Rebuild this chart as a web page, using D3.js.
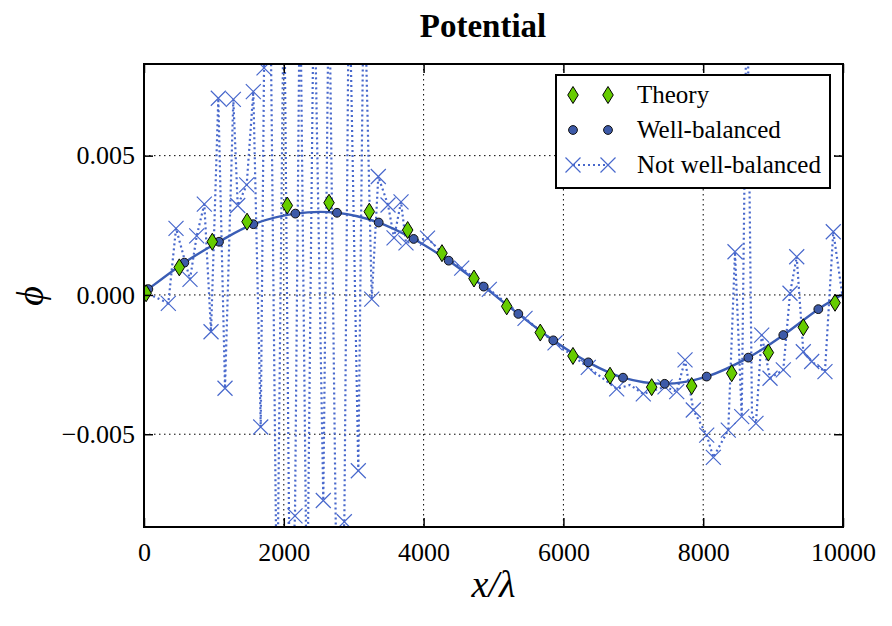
<!DOCTYPE html>
<html lang="en">
<head>
   <meta charset="UTF-8">
   <title>Potential</title>
   <style>
      html, body {
         margin: 0;
         padding: 0;
         background: #fff;
         overflow: hidden;
      }

      text {
         font-family: 'Liberation Serif', 'Times New Roman', serif;
         fill: #000;
      }

      .axis text {
         font-size: 26px;
      }

      .axis line {
         stroke: #000;
         stroke-width: 1.5;
      }

      .grid line {
         stroke: #000;
         stroke-width: 1;
         stroke-dasharray: 1.5, 3.5;
      }

      .legend text {
         font-size: 25px;
      }
   </style>
   <script src="https://cdn.jsdelivr.net/npm/d3@7"></script>
</head>
<body>
   <div id="chart"></div>
   <script>
      // theory (green diamonds)
      const theoryX = [30, 505, 977, 1474, 2050, 2647, 3223, 3772, 4263, 4721, 5189, 5669, 6137, 6667, 7263, 7835, 8408, 8932, 9432, 9886]
      const theoryY = [0.00006, 0.00099, 0.00191, 0.00263, 0.00321, 0.00331, 0.00299, 0.00233, 0.00150, 0.00059, -0.00041, -0.00135, -0.00219, -0.00290, -0.00331, -0.00327, -0.00281, -0.00207, -0.00116, -0.00028]

      // well-balanced (circles + solid line)
      const wbX = [62, 577, 1073, 1564, 2165, 2761, 3358, 3858, 4359, 4860, 5355, 5855, 6356, 6853, 7449, 8050, 8645, 9146, 9647]
      const wbY = [0.00021, 0.00116, 0.00191, 0.00254, 0.00292, 0.00295, 0.00260, 0.00201, 0.00123, 0.00030, -0.00068, -0.00163, -0.00242, -0.00297, -0.00319, -0.00293, -0.00225, -0.00144, -0.00051]
      const wbLineX = [0, ...wbX, 10000]
      const wbLineY = [0.00009, ...wbY, 0.00003]

      // not well-balanced (x markers + dotted line), values beyond the axis are clipped
      const nwbX = [0, 348, 458, 658, 754, 863, 959, 1063, 1159, 1278, 1341, 1469, 1564, 1670, 1717, 1803, 1903, 2003, 2089, 2160,
         2232, 2332, 2432, 2565, 2647, 2761, 2866, 2933, 3066, 3147, 3258, 3352, 3491, 3577, 3677, 3748, 4056, 4306, 4545, 4940,
         5451, 5880, 6356, 6762, 6953, 7143, 7454, 7621, 7740, 7858, 8050, 8145, 8359, 8455, 8551, 8627, 8698, 8755, 8837, 8956,
         9146, 9242, 9338, 9432, 9552, 9742, 9861, 10000]
      const nwbY = [0.00011, -0.00030, 0.00239, 0.00056, 0.00212, 0.00326, -0.00132, 0.00706, -0.00335, 0.00702, 0.00321, 0.00395, 0.00730, -0.00474, 0.00815, 0.012, -0.012, 0.012, -0.012, -0.00793,
         0.012, -0.012, 0.012, -0.00738, 0.012, -0.012, -0.00814, 0.012, -0.00631, 0.012, -0.00015, 0.00425, 0.00323, 0.00205, 0.00334, 0.00187, 0.00204, 0.00140, 0.00096, 0.00020,
         -0.00084, -0.00172, -0.00260, -0.00337, -0.00323, -0.00355, -0.00330, -0.00347, -0.00233, -0.00413, -0.00503, -0.00583, -0.00485, 0.00155, -0.00437, 0.012, -0.00431, -0.00461, -0.00144, -0.00299,
         -0.00269, 0.00006, 0.00137, -0.00204, -0.00239, -0.00275, 0.00227, -0.00018]
      const nwbMark = [0, 1, 1, 1, 1, 1, 1, 1, 1, 1, 1, 1, 1, 1, 1, 0, 0, 0, 0, 1,
         0, 0, 0, 1, 0, 0, 1, 0, 1, 0, 1, 1, 1, 1, 1, 1, 1, 0, 1, 1,
         1, 1, 1, 1, 0, 1, 1, 1, 1, 1, 1, 1, 1, 1, 1, 0, 0, 1, 1, 1,
         1, 1, 1, 1, 1, 1, 1, 0]

      const xTicks = [0, 2000, 4000, 6000, 8000, 10000]
      const yTicks = [-0.005, 0, 0.005]
      const legendLabels = ['Theory', 'Well-balanced', 'Not well-balanced']

      const COLOR_LINE = '#3a5db5'
      const COLOR_DOT = '#3d5aa8'
      const COLOR_X = '#4868cc'
      const COLOR_GREEN = '#66cc00'

      // custom marker shapes for d3.symbol
      const xShape = {
         draw(ctx, size) {
            const r = Math.sqrt(size) / 2
            ctx.moveTo(-r, -r)
            ctx.lineTo(r, r)
            ctx.moveTo(-r, r)
            ctx.lineTo(r, -r)
         }
      }
      const thinDiamond = {
         draw(ctx, size) {
            const h = Math.sqrt(size) / 2, w = h * 0.62
            ctx.moveTo(0, -h)
            ctx.lineTo(w, 0)
            ctx.lineTo(0, h)
            ctx.lineTo(-w, 0)
            ctx.closePath()
         }
      }

      const W = 892, H = 626
      const padding = { top: 64, right: 49, bottom: 99, left: 144 }
      const WIDTH = W - padding.left - padding.right
      const HEIGHT = H - padding.top - padding.bottom

      const svg = d3.select('#chart').append('svg')
         .attr('width', W)
         .attr('height', H)

      const chart = svg.append('g')
         .attr('transform', `translate(${padding.left}, ${padding.top})`)

      // scales
      const xScale = d3.scaleLinear().domain([0, 10000]).range([0, WIDTH])
      const yScale = d3.scaleLinear().domain([-0.00833, 0.00829]).range([HEIGHT, 0])

      chart.append('clipPath')
         .attr('id', 'clip')
         .append('rect')
         .attr('width', WIDTH)
         .attr('height', HEIGHT)

      // grid
      const grid = chart.append('g').attr('class', 'grid')
      grid.selectAll('.gx')
         .data(xTicks.slice(1, -1))
         .enter()
         .append('line')
         .attr('x1', d => xScale(d))
         .attr('x2', d => xScale(d))
         .attr('y1', 0)
         .attr('y2', HEIGHT)
      grid.selectAll('.gy')
         .data(yTicks)
         .enter()
         .append('line')
         .attr('x1', 0)
         .attr('x2', WIDTH)
         .attr('y1', d => yScale(d))
         .attr('y2', d => yScale(d))

      const plot = chart.append('g').attr('clip-path', 'url(#clip)')

      // not well-balanced
      const nwb = nwbX.map((x, i) => ({ x, y: nwbY[i], mark: nwbMark[i] }))
      plot.append('path')
         .datum(nwb)
         .attr('fill', 'none')
         .attr('stroke', COLOR_X)
         .attr('stroke-width', 2.2)
         .attr('stroke-dasharray', '2,3')
         .attr('d', d3.line().x(d => xScale(d.x)).y(d => yScale(d.y)))

      // well-balanced line
      const wbLine = wbLineX.map((x, i) => ({ x, y: wbLineY[i] }))
      plot.append('path')
         .datum(wbLine)
         .attr('fill', 'none')
         .attr('stroke', COLOR_LINE)
         .attr('stroke-width', 2.4)
         .attr('d', d3.line().curve(d3.curveCatmullRom).x(d => xScale(d.x)).y(d => yScale(d.y)))

      plot.selectAll('.xmark')
         .data(nwb.filter(d => d.mark))
         .enter()
         .append('path')
         .attr('class', 'xmark')
         .attr('transform', d => `translate(${xScale(d.x)}, ${yScale(d.y)})`)
         .attr('d', d3.symbol(xShape, 15 * 15))
         .attr('fill', 'none')
         .attr('stroke', COLOR_X)
         .attr('stroke-width', 1.2)

      plot.selectAll('.wb')
         .data(wbX.map((x, i) => ({ x, y: wbY[i] })))
         .enter()
         .append('circle')
         .attr('cx', d => xScale(d.x))
         .attr('cy', d => yScale(d.y))
         .attr('r', 4.4)
         .attr('fill', COLOR_DOT)
         .attr('stroke', '#111')
         .attr('stroke-width', 1)

      plot.selectAll('.theory')
         .data(theoryX.map((x, i) => ({ x, y: theoryY[i] })))
         .enter()
         .append('path')
         .attr('transform', d => `translate(${xScale(d.x)}, ${yScale(d.y)})`)
         .attr('d', d3.symbol(thinDiamond, 17 * 17))
         .attr('fill', COLOR_GREEN)
         .attr('stroke', '#000')
         .attr('stroke-width', 1)

      // axes
      const xAxis = chart.append('g')
         .attr('class', 'axis')
         .attr('transform', `translate(0, ${HEIGHT})`)
         .call(d3.axisBottom(xScale).tickValues(xTicks).tickSize(-9).tickPadding(16).tickFormat(d3.format('d')))
      xAxis.select('.domain').remove()

      const xAxisTop = chart.append('g')
         .attr('class', 'axis')
         .call(d3.axisTop(xScale).tickValues(xTicks).tickSize(-9).tickFormat(''))
      xAxisTop.select('.domain').remove()

      const yAxis = chart.append('g')
         .attr('class', 'axis')
         .call(d3.axisLeft(yScale).tickValues(yTicks).tickSize(-9).tickPadding(9).tickFormat(d3.format('.3f')))
      yAxis.select('.domain').remove()

      const yAxisRight = chart.append('g')
         .attr('class', 'axis')
         .attr('transform', `translate(${WIDTH}, 0)`)
         .call(d3.axisRight(yScale).tickValues(yTicks).tickSize(-9).tickFormat(''))
      yAxisRight.select('.domain').remove()

      chart.selectAll('.axis .tick line').attr('stroke', '#000')
      chart.selectAll('.axis text').attr('fill', '#000')

      // frame
      chart.append('rect')
         .attr('width', WIDTH)
         .attr('height', HEIGHT)
         .attr('fill', 'none')
         .attr('stroke', '#000')
         .attr('stroke-width', 2)

      // labels
      svg.append('text')
         .attr('x', 483)
         .attr('y', 37)
         .attr('text-anchor', 'middle')
         .style('font-size', '33px')
         .style('font-weight', 'bold')
         .text('Potential')

      svg.append('text')
         .attr('x', padding.left + WIDTH / 2)
         .attr('y', 597)
         .attr('text-anchor', 'middle')
         .style('font-size', '38px')
         .style('font-style', 'italic')
         .text('x/λ')

      svg.append('text')
         .attr('transform', 'translate(43, 296) rotate(-90)')
         .attr('text-anchor', 'middle')
         .style('font-size', '38px')
         .style('font-style', 'italic')
         .text('ϕ')

      // legend
      const legend = svg.append('g').attr('class', 'legend')
      legend.append('rect')
         .attr('x', 556)
         .attr('y', 75)
         .attr('width', 274)
         .attr('height', 113)
         .attr('fill', '#fff')
         .attr('stroke', '#000')
         .attr('stroke-width', 2)

      const rows = legendLabels.map((label, i) => ({ label, y: 95 + i * 35 }))
      const mx = [573, 608]

      legend.append('line')
         .attr('x1', mx[0])
         .attr('x2', mx[1])
         .attr('y1', rows[2].y)
         .attr('y2', rows[2].y)
         .attr('stroke', COLOR_X)
         .attr('stroke-width', 2)
         .attr('stroke-dasharray', '2,3')

      mx.forEach(x => {
         legend.append('path')
            .attr('transform', `translate(${x}, ${rows[0].y})`)
            .attr('d', d3.symbol(thinDiamond, 17 * 17))
            .attr('fill', COLOR_GREEN)
            .attr('stroke', '#000')
         legend.append('circle')
            .attr('cx', x)
            .attr('cy', rows[1].y)
            .attr('r', 4.4)
            .attr('fill', COLOR_DOT)
            .attr('stroke', '#111')
         legend.append('path')
            .attr('transform', `translate(${x}, ${rows[2].y})`)
            .attr('d', d3.symbol(xShape, 15 * 15))
            .attr('fill', 'none')
            .attr('stroke', COLOR_X)
            .attr('stroke-width', 1.2)
      })

      legend.selectAll('.label')
         .data(rows)
         .enter()
         .append('text')
         .attr('x', 637)
         .attr('y', d => d.y + 8)
         .text(d => d.label)
   </script>
</body>
</html>
